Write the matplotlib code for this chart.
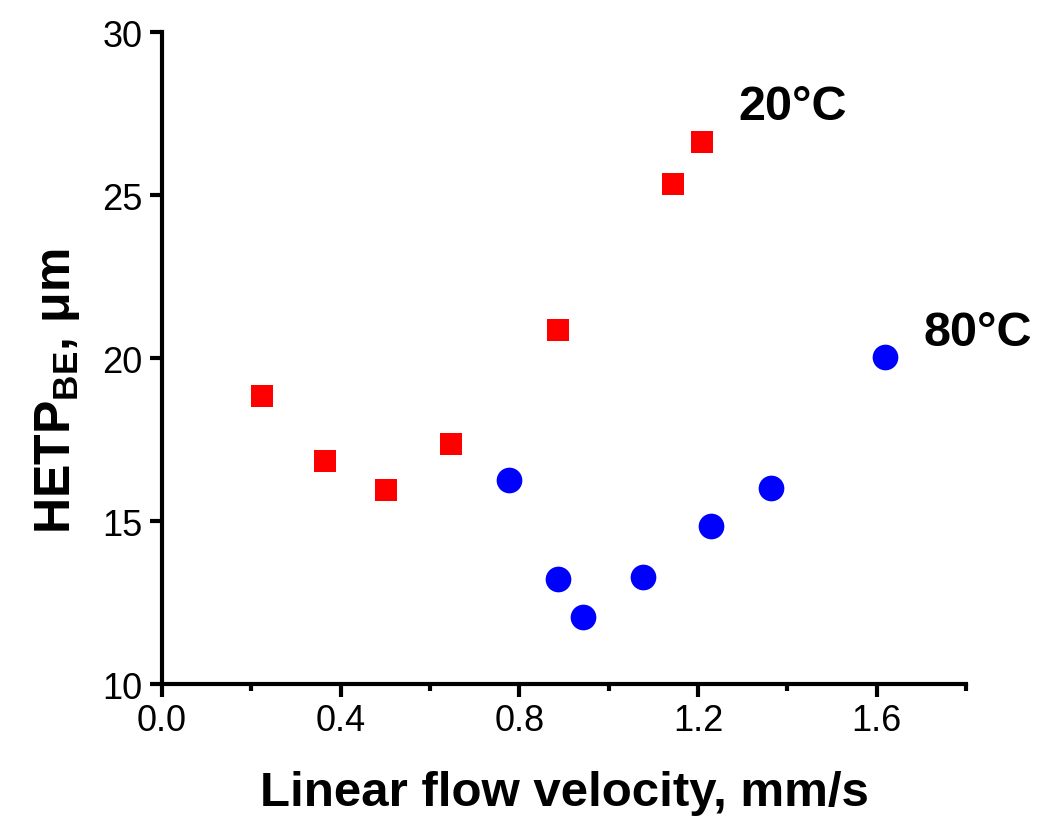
import matplotlib
matplotlib.use('Agg')
import matplotlib.pyplot as plt
from matplotlib.ticker import MultipleLocator, FormatStrFormatter

plt.rcParams['font.family'] = ['Liberation Sans', 'DejaVu Sans']
plt.rcParams['mathtext.fontset'] = 'custom'
plt.rcParams['mathtext.rm'] = 'Liberation Sans'
plt.rcParams['mathtext.bf'] = 'Liberation Sans:bold'

# 20 °C data (red squares)
x_20 = [0.224, 0.365, 0.502, 0.647, 0.887, 1.144, 1.209]
y_20 = [18.83, 16.84, 15.95, 17.36, 20.86, 25.33, 26.63]

# 80 °C data (blue circles)
x_80 = [0.777, 0.887, 0.943, 1.077, 1.230, 1.364, 1.619]
y_80 = [16.26, 13.22, 12.07, 13.28, 14.85, 16.02, 20.02]

fig = plt.figure(figsize=(10.5, 8.28), dpi=100)
ax = fig.add_axes([0.1543, 0.1727, 0.7657, 0.7873])

ax.plot(x_20, y_20, 's', color='#ff0000', markersize=16.5, markeredgewidth=0)
ax.plot(x_80, y_80, 'o', color='#0000ff', markersize=18.5, markeredgewidth=0)

ax.text(1.29, 27.73, '20°C', fontsize=35, fontweight='bold', va='center', ha='left')
ax.text(1.704, 20.77, '80°C', fontsize=35, fontweight='bold', va='center', ha='left')

ax.set_xlim(0, 1.8)
ax.set_ylim(10, 30)
ax.xaxis.set_major_locator(MultipleLocator(0.4))
ax.xaxis.set_minor_locator(MultipleLocator(0.2))
ax.yaxis.set_major_locator(MultipleLocator(5))
ax.xaxis.set_major_formatter(FormatStrFormatter('%.1f'))

for s in ['top', 'right']:
    ax.spines[s].set_visible(False)
for s in ['left', 'bottom']:
    ax.spines[s].set_linewidth(3)

ax.tick_params(which='major', direction='out', length=9, width=3, labelsize=26, pad=5)
ax.tick_params(which='minor', direction='out', length=5, width=3)

ax.set_xlabel('Linear flow velocity, mm/s', fontsize=35.5, fontweight='bold', labelpad=23)
ax.set_ylabel(r'HETP$_{\mathbf{BE}}$, μm', fontsize=36, fontweight='bold')
ax.yaxis.set_label_coords(-0.1, 0.45)

fig.savefig('out.png', dpi=100)
